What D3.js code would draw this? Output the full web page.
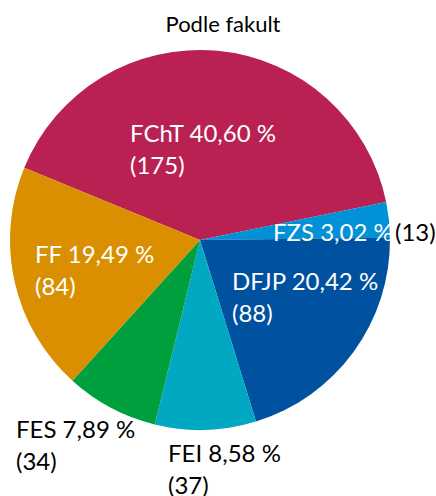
<!DOCTYPE html>
<html>
<head>
<meta charset="utf-8">
<script src="https://cdn.jsdelivr.net/npm/d3@7"></script>
<style>
  body { margin: 0; background: #fff; }
  text { font-family: Lato, 'Open Sans', sans-serif; }
</style>
</head>
<body>
<svg id="chart" width="436" height="496"></svg>
<script>
// data (order as in the source sheet)
const faculties = ['FChT', 'FZS', 'DFJP', 'FEI', 'FES', 'FF']
const counts = [175, 13, 88, 37, 34, 84]
const percents = ['40,60', '3,02', '20,42', '8,58', '7,89', '19,49']
const colors = ['#B92152', '#0091D6', '#0051A0', '#00A8C2', '#009F3D', '#D98F00']
const title = 'Podle fakult'

// where Excel put each label (offset of first baseline from pie centre)
const labelPos = {
  FChT: { dx: -70, dy: -98, fill: '#fff' },
  FZS: { dx: 73, dy: 1, fill: '#fff', outside: 195 },
  DFJP: { dx: 32, dy: 50, fill: '#fff' },
  FEI: { dx: -32, dy: 222, fill: '#000' },
  FES: { dx: -184, dy: 198, fill: '#000' },
  FF: { dx: -165, dy: 23, fill: '#fff' },
}

const svg = d3.select('#chart')
const cx = 200,
  cy = 240,
  radius = 190
const lineH = 32

svg
  .append('text')
  .attr('x', 223)
  .attr('y', 32)
  .attr('text-anchor', 'middle')
  .attr('font-size', 22)
  .attr('fill', '#000')
  .text(title)

const rows = faculties.map((f, i) => ({ name: f, value: counts[i], pct: percents[i], color: colors[i] }))

// first slice is rotated so that FZS begins a bit above 3 o'clock
const total = d3.sum(counts)
const start = (78.5 / 180) * Math.PI - (counts[0] / total) * 2 * Math.PI

const pie = d3
  .pie()
  .sort(null)
  .value((d) => d.value)
  .startAngle(start)
  .endAngle(start + 2 * Math.PI)

const arc = d3.arc().innerRadius(0).outerRadius(radius)

const g = svg.append('g').attr('transform', 'translate(' + cx + ',' + cy + ')')

g.selectAll('path')
  .data(pie(rows))
  .enter()
  .append('path')
  .attr('d', arc)
  .attr('fill', (d) => d.data.color)

const labels = g
  .selectAll('.label')
  .data(rows)
  .enter()
  .append('text')
  .attr('class', 'label')
  .attr('font-size', 24)
  .attr('fill', (d) => labelPos[d.name].fill)

labels.each(function (d) {
  const p = labelPos[d.name]
  const t = d3.select(this)
  t.append('tspan').attr('x', p.dx).attr('y', p.dy).text(d.name + ' ' + d.pct + ' %')
  if (p.outside) {
    // count sits on the same line, outside the slice, in black
    t.append('tspan').attr('x', p.outside).attr('fill', '#000').text('(' + d.value + ')')
  } else {
    t.append('tspan').attr('x', p.dx).attr('y', p.dy + lineH).text('(' + d.value + ')')
  }
})
</script>
</body>
</html>
